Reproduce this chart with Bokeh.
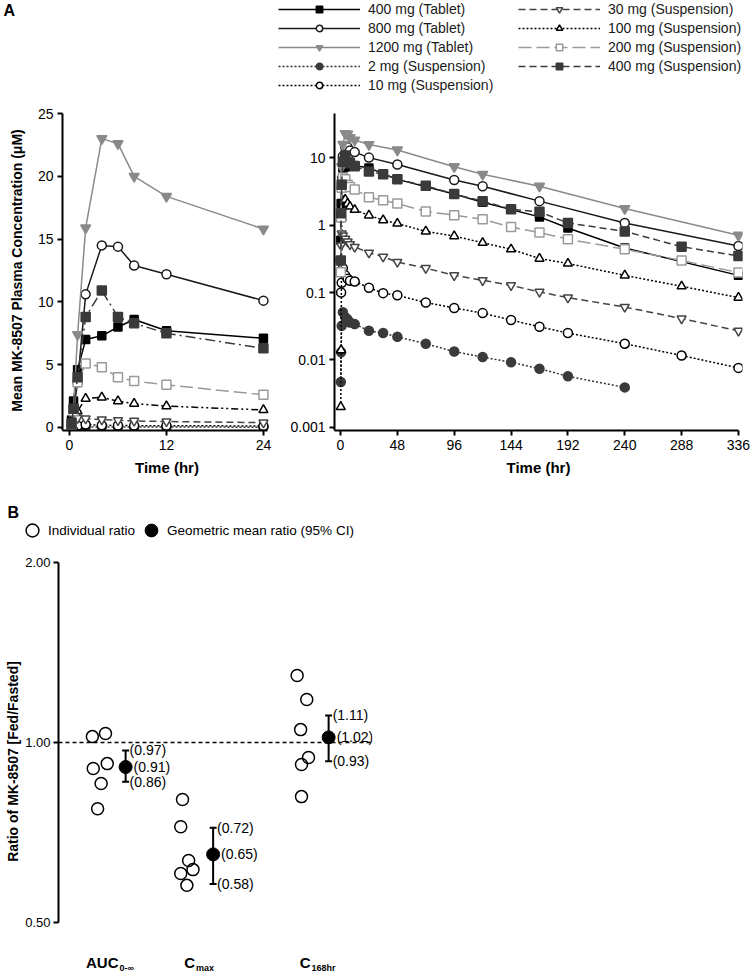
from bokeh.plotting import figure
from bokeh.layouts import column, row
from bokeh.models import (Legend, LegendItem, Label, FixedTicker, Span, Range1d, Spacer,
                          PrintfTickFormatter)
from bokeh.core.properties import value
from bokeh.embed import file_html
from bokeh.resources import INLINE

FONT = "Liberation Sans"
NAN = float("nan")

# ---------------- data: panel A (mean plasma concentration, uM) ----------------
t_susp = [0.25, 0.5, 1, 2, 4, 6, 8, 12, 24, 36, 48, 72, 96, 120, 144, 168, 192, 240, 288, 336]

tab400_t = [0.25, 0.5, 1, 2, 4, 6, 8, 12, 24, 48, 96, 120, 168, 192, 240, 336]
tab400_c = [0.6, 2.1, 4.6, 7.0, 7.3, 8.0, 8.6, 7.7, 7.1, 4.8, 2.9, 2.2, 1.33, 0.91, 0.46, 0.18]
tab800_t = [0.25, 0.5, 1, 2, 4, 6, 8, 12, 24, 48, 96, 120, 168, 240, 336]
tab800_c = [0.3, 1.3, 3.6, 10.6, 14.5, 14.4, 12.9, 12.2, 10.1, 8.0, 4.7, 3.8, 2.28, 1.08, 0.49]
tab1200_t = [0.5, 1, 2, 4, 6, 8, 12, 24, 48, 96, 120, 168, 240, 336]
tab1200_c = [1.5, 7.4, 15.9, 23.0, 22.6, 20.0, 18.4, 15.8, 13.1, 7.4, 5.7, 3.8, 1.77, 0.71]
sus2_t = t_susp[:18]
sus2_c = [0.0047, 0.013, 0.032, 0.051, 0.043, 0.040, 0.036, 0.034, 0.027, 0.025, 0.022,
          0.0174, 0.0133, 0.011, 0.0092, 0.0074, 0.0057, 0.0039]
sus10_t = t_susp[1:]
sus10_c = [0.10, 0.14, 0.23, 0.18, 0.16, 0.15, 0.146, 0.118, 0.098, 0.091, 0.071, 0.059,
           0.0495, 0.039, 0.031, 0.025, 0.0174, 0.0116, 0.0076]
sus30_t = t_susp[1:]
sus30_c = [0.5, 0.75, 0.7, 0.63, 0.57, 0.52, 0.475, 0.39, 0.34, 0.284, 0.23, 0.18, 0.152,
           0.128, 0.102, 0.084, 0.061, 0.041, 0.027]
sus100_t = t_susp
sus100_c = [0.002, 0.014, 1.3, 2.3, 2.4, 2.1, 1.9, 1.7, 1.4, 1.19, 1.06, 0.81, 0.69, 0.55,
            0.44, 0.32, 0.27, 0.18, 0.124, 0.084]
sus200_t = t_susp
sus200_c = [0.2, 1.3, 3.6, 5.1, 4.8, 4.0, 3.7, 3.4, 2.6, 2.35, 2.1, 1.6, 1.41, 1.23, 0.94,
            0.78, 0.62, 0.44, 0.30, 0.198]
sus400_t = t_susp
sus400_c = [0.3, 1.5, 4.0, 8.8, 10.9, 8.8, 8.3, 7.5, 6.3, 5.7, 4.8, 3.85, 2.9, 2.28, 1.73,
            1.58, 1.08, 0.81, 0.48, 0.35]

lin_ticks = [0, 5, 10, 15, 20, 25]
short_time_ticks = [0, 12, 24]
long_time_ticks = [0, 48, 96, 144, 192, 240, 288, 336]
log_ticks = [0.001, 0.01, 0.1, 1, 10]
log_tick_labels = ["0.001", "0.01", "0.1", "1", "10"]

# ---------------- data: panel B (fed/fasted ratios) ----------------
cat_main = ["AUC", "C", "C"]
cat_sub = ["0-\u221e", "max", "168hr"]
cat_pos = [1.0, 2.0, 3.32]
ind_auc = [1.023, 1.035, 0.905, 0.922, 0.854, 0.775]
ind_cmax = [0.803, 0.723, 0.635, 0.604, 0.613, 0.577]
ind_c168 = [1.294, 1.180, 1.051, 0.944, 0.919, 0.812]
jit_auc = [-0.08, 0.07, -0.07, 0.09, 0.02, -0.02]
jit_cmax = [-0.05, -0.07, 0.02, -0.07, 0.07, 0.0]
jit_c168 = [-0.06, 0.05, -0.02, 0.07, -0.01, -0.01]
gmr = [0.91, 0.65, 1.02]
ci_lo = [0.86, 0.58, 0.93]
ci_hi = [0.97, 0.72, 1.11]

# ---------------- styles ----------------
series = [
    dict(name="400 mg (Tablet)", t=tab400_t, c=tab400_c, color="#000000", dash="solid",
         marker="square", mcolor="#000000", fill="#000000", size=8),
    dict(name="800 mg (Tablet)", t=tab800_t, c=tab800_c, color="#1a1a1a", dash="solid",
         marker="circle", mcolor="#1a1a1a", fill="white", size=9),
    dict(name="1200 mg (Tablet)", t=tab1200_t, c=tab1200_c, color="#8a8a8a", dash="solid",
         marker="inverted_triangle", mcolor="#8a8a8a", fill="#8a8a8a", size=10),
    dict(name="2 mg (Suspension)", t=sus2_t, c=sus2_c, color="#333333", dash="2 2",
         marker="circle", mcolor="#3a3a3a", fill="#3a3a3a", size=9),
    dict(name="10 mg (Suspension)", t=sus10_t, c=sus10_c, color="#000000", dash="2 2",
         marker="circle", mcolor="#000000", fill="white", size=9),
    dict(name="30 mg (Suspension)", t=sus30_t, c=sus30_c, color="#444444", dash="7 4",
         marker="inverted_triangle", mcolor="#444444", fill="white", size=9),
    dict(name="100 mg (Suspension)", t=sus100_t, c=sus100_c, color="#000000", dash="2 2",
         dash_left="7 3 2 3 2 3", marker="triangle", mcolor="#000000", fill="white", size=9),
    dict(name="200 mg (Suspension)", t=sus200_t, c=sus200_c, color="#9a9a9a", dash="13 5",
         marker="square", mcolor="#9a9a9a", fill="white", size=9),
    dict(name="400 mg (Suspension)", t=sus400_t, c=sus400_c, color="#3a3a3a", dash="7 4",
         dash_left="10 4 2 4", marker="square", mcolor="#3a3a3a", fill="#3a3a3a", size=9),
]


def draw(p, s, t, c, dash):
    lr = p.line(t, c, line_color=s["color"], line_width=1.5, line_dash=dash)
    sr = p.scatter(t, c, marker=s["marker"], size=s["size"], line_color=s["mcolor"],
                   fill_color=s["fill"], line_width=1.5)
    return lr, sr


def style_axis(ax, label_size="14px", title_size="15px"):
    ax.axis_line_width = 2
    ax.axis_line_color = "black"
    ax.major_tick_line_width = 2
    ax.major_tick_line_color = "black"
    ax.major_tick_out = 5
    ax.major_tick_in = 0
    ax.minor_tick_line_color = None
    ax.major_label_text_font = FONT
    ax.major_label_text_font_size = label_size
    ax.major_label_text_color = "black"
    ax.major_label_standoff = 4
    ax.axis_label_text_font = FONT
    ax.axis_label_text_font_style = "bold"
    ax.axis_label_text_font_size = title_size
    ax.axis_label_text_color = "black"


def bare(p):
    p.outline_line_color = None
    p.xgrid.visible = False
    p.ygrid.visible = False
    p.background_fill_color = None
    p.border_fill_color = None


def strip(w, h):
    p = figure(width=w, height=h, x_range=Range1d(0, 1), y_range=Range1d(0, 1),
               x_axis_type=None, y_axis_type=None, output_backend="svg", toolbar_location=None,
               min_border_left=0, min_border_right=0, min_border_top=0, min_border_bottom=0)
    bare(p)
    return p


# ---------------- legend strip (top) ----------------
LEG_H = 100
leg = strip(750, LEG_H)
items = []
for s in series:
    lr, sr = draw(leg, s, [NAN], [NAN], s["dash"])
    items.append(LegendItem(label=s["name"], renderers=[lr, sr]))


def make_legend(its, x):
    n = len(its)
    height = n * 16 + (n - 1) * 3
    return Legend(items=its, location=(x, LEG_H - 1 - height),
                  orientation="vertical", glyph_width=82, glyph_height=16, label_height=16,
                  spacing=3, padding=0, margin=0, label_standoff=8,
                  label_text_font=FONT, label_text_font_size="14px", label_text_color="#1a1a1a",
                  border_line_color=None, background_fill_alpha=0)


leg.add_layout(make_legend(items[:5], 278))
leg.add_layout(make_legend(items[5:], 518))
leg.add_layout(Label(x=3, y=LEG_H - 1, x_units="screen", y_units="screen", text="A",
                     text_font=FONT, text_font_style="bold", text_font_size="16px",
                     text_baseline="top", text_color="black"))

# ---------------- panel A left (linear, 0-24 h) ----------------
a1 = figure(width=281, height=382, x_range=Range1d(-0.866, 25.0), y_range=Range1d(-0.239, 25.24),
            output_backend="svg", toolbar_location=None,
            min_border_left=61, min_border_right=11, min_border_top=10, min_border_bottom=52)
bare(a1)
for s in series:
    pairs = [(a, b) for a, b in zip(s["t"], s["c"]) if a <= 24]
    draw(a1, s, [a for a, _ in pairs], [b for _, b in pairs], s.get("dash_left", s["dash"]))
style_axis(a1.xaxis[0])
style_axis(a1.yaxis[0], title_size="14px")
a1.xaxis.bounds = (-0.866, 24.5)
a1.xaxis.ticker = FixedTicker(ticks=short_time_ticks)
a1.xaxis.axis_label = "Time (hr)"
a1.xaxis.axis_label_standoff = 6
a1.yaxis.bounds = (-0.239, 25)
a1.yaxis.ticker = FixedTicker(ticks=lin_ticks)
a1.yaxis.axis_label = "Mean MK-8507 Plasma Concentration (\u03bcM)"
a1.yaxis.axis_label_standoff = 10

# ---------------- panel A right (log, 0-336 h) ----------------
a2 = figure(width=468, height=382, x_range=Range1d(-5.07, 339.4), y_range=Range1d(0.000893, 50.6),
            y_axis_type="log", output_backend="svg", toolbar_location=None,
            min_border_left=52, min_border_right=8, min_border_top=10, min_border_bottom=52)
bare(a2)
for s in series:
    draw(a2, s, s["t"], s["c"], s["dash"])
style_axis(a2.xaxis[0])
style_axis(a2.yaxis[0])
a2.yaxis.bounds = (0.000893, 45)
a2.yaxis.ticker = FixedTicker(ticks=log_ticks)
a2.yaxis.major_label_overrides = {float(k): v for k, v in zip(log_ticks, log_tick_labels)}
a2.xaxis.bounds = (-5.07, 336)
a2.xaxis.ticker = FixedTicker(ticks=long_time_ticks)
a2.xaxis.axis_label = "Time (hr)"
a2.xaxis.axis_label_standoff = 6

# ---------------- panel B legend strip ----------------
LB_H = 66
lb = strip(400, LB_H)
r_open = lb.scatter([NAN], [NAN], marker="circle", size=13, line_color="black", line_width=1.5,
                    fill_color=None)
r_fill = lb.scatter([NAN], [NAN], marker="circle", size=13, line_color="black", fill_color="black")
lb.add_layout(Legend(items=[LegendItem(label="Individual ratio", renderers=[r_open]),
                            LegendItem(label="Geometric mean ratio (95% CI)", renderers=[r_fill])],
                     location=(16, 2), orientation="horizontal", glyph_width=32, glyph_height=32,
                     label_standoff=-6, spacing=0, padding=0, margin=0,
                     label_text_font=FONT, label_text_font_size="13.5px", label_text_color="black",
                     border_line_color=None, background_fill_alpha=0))
lb.add_layout(Label(x=7, y=LB_H - 21, x_units="screen", y_units="screen", text="B",
                    text_font=FONT, text_font_style="bold", text_font_size="16px",
                    text_baseline="top", text_color="black"))

# ---------------- panel B plot ----------------
b = figure(width=372, height=424, x_range=Range1d(0.3829, 3.9714), y_range=Range1d(0.4125, 2.0946),
           y_axis_type="log", output_backend="svg", toolbar_location=None,
           min_border_left=56, min_border_right=2, min_border_top=2, min_border_bottom=0)
bare(b)
b.xaxis.visible = False
style_axis(b.yaxis[0], label_size="13px", title_size="14px")
b.yaxis.major_label_standoff = 3
b.yaxis.bounds = (0.5, 2.0)
b.yaxis.ticker = FixedTicker(ticks=[0.5, 1.0, 2.0])
b.yaxis.formatter = PrintfTickFormatter(format="%.2f")
b.yaxis.axis_label = "Ratio of MK-8507 [Fed/Fasted]"
b.yaxis.axis_label_standoff = 1
b.add_layout(Span(location=1.0, dimension="width", line_color="black", line_width=1.5,
                  line_dash="4 3"))

for pos, vals, jit in zip(cat_pos, [ind_auc, ind_cmax, ind_c168], [jit_auc, jit_cmax, jit_c168]):
    b.scatter([pos - 0.15 + j for j in jit], vals, marker="circle", size=12, line_color="black",
              line_width=1.5, fill_color=None)

mean_x = [p + 0.15 for p in cat_pos]
b.segment(x0=mean_x, y0=ci_lo, x1=mean_x, y1=ci_hi, line_color="black", line_width=2)
b.scatter(mean_x + mean_x, ci_lo + ci_hi, marker="dash", size=7, line_color="black", line_width=2)
b.scatter(mean_x, gmr, marker="circle", size=13, line_color="black", fill_color="black")
b.text(x=mean_x, y=ci_hi, text=[f"({v:.2f})" for v in ci_hi], x_offset=4,
       text_font=value(FONT), text_font_size="14px", text_baseline="middle", text_color="black")
b.text(x=mean_x, y=gmr, text=[f"({v:.2f})" for v in gmr], x_offset=8,
       text_font=value(FONT), text_font_size="14px", text_baseline="middle", text_color="black")
b.text(x=mean_x, y=ci_lo, text=[f"({v:.2f})" for v in ci_lo], x_offset=4,
       text_font=value(FONT), text_font_size="14px", text_baseline="middle", text_color="black")

join_off = [6, -5, -5]
for pos, main, sub, off in zip(cat_pos, cat_main, cat_sub, join_off):
    b.add_layout(Label(x=pos, y=10, x_units="data", y_units="screen", x_offset=off, text=main,
                       text_align="right", text_baseline="alphabetic", text_font=FONT,
                       text_font_style="bold", text_font_size="15px", text_color="black"))
    b.add_layout(Label(x=pos, y=5, x_units="data", y_units="screen", x_offset=off + 1, text=sub,
                       text_align="left", text_baseline="alphabetic", text_font=FONT,
                       text_font_style="bold", text_font_size="9px", text_color="black"))

layout = column(leg, row(Spacer(width=1), a1, a2), lb, row(Spacer(width=2), b))
open("out.html", "w").write(file_html(layout, INLINE))
